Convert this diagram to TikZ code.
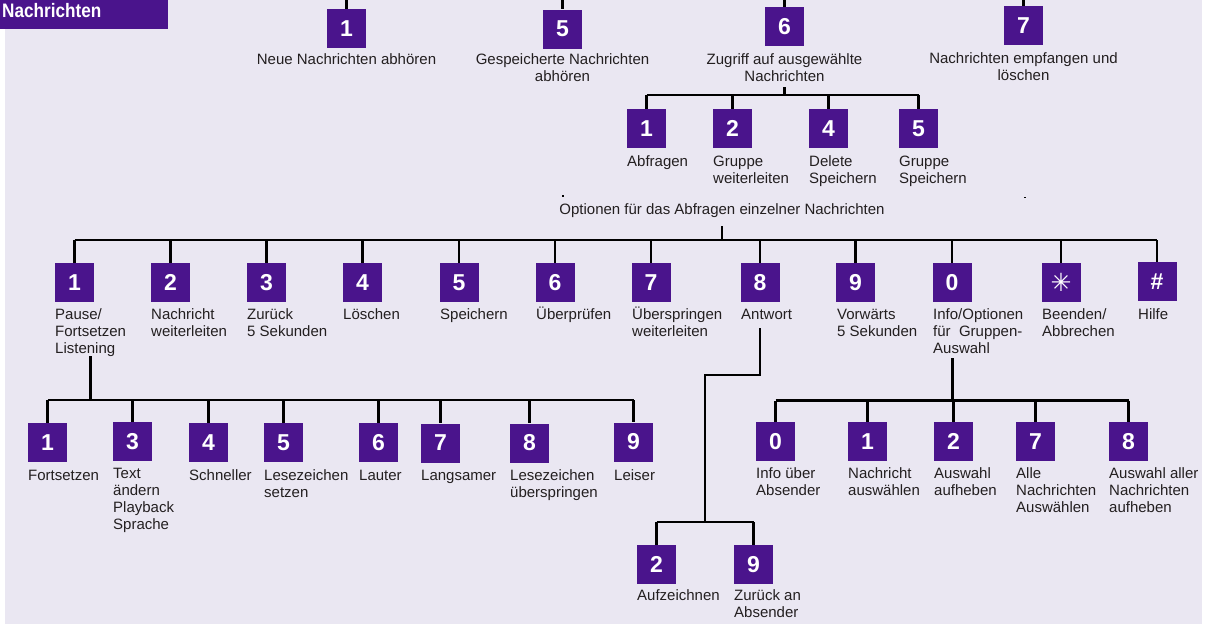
\documentclass[tikz,border=0pt]{standalone}
\usepackage{fontspec}
\setmainfont{Liberation Sans}
\newfontfamily\symfont{DejaVu Sans}
\definecolor{kpurple}{RGB}{74,20,140}
\definecolor{kbg}{RGB}{234,231,242}
\definecolor{ktext}{RGB}{35,31,32}
\tikzset{
  keybox/.style={fill=kpurple, text=white, minimum size=39pt, inner sep=0pt,
    font=\fontsize{23}{23}\selectfont\bfseries},
  lab/.style={anchor=north west, inner sep=0pt, align=left, text=ktext,
    font=\fontsize{15}{17}\selectfont},
  labc/.style={anchor=north, inner sep=0pt, align=center, text=ktext,
    font=\fontsize{15}{17}\selectfont},
  conn/.style={draw=black, line width=2.5pt}
}
\begin{document}
\begin{tikzpicture}[x=1pt,y=-1pt]
\useasboundingbox (0,0) rectangle (1215,624);
% background
\fill[kbg] (5,0) rectangle (1202,624);
\fill[kpurple] (0,0) rectangle (168,28.7);
\node[anchor=base west, inner sep=0pt, text=white, font=\fontsize{19.5}{20}\selectfont\bfseries] (title) at (2,17.3) {\scalebox{0.88}[1]{Nachrichten}};
% tiny marks
\fill[black] (562,195) rectangle (564,197);
\fill[black] (1024,196.5) rectangle (1026,198);

% ---------- top row ----------
\node[keybox] (k1) at (346.5,28.5) {1};
\node[keybox] (k5) at (562.5,29) {5};
\node[keybox] (k6) at (784.5,26.5) {6};
\node[keybox] (k7) at (1023.5,25.5) {7};
\node[labc] (l1) at (346.5,52) {\strut Neue Nachrichten abhören};
\node[labc] (l5) at (562.5,52) {\strut Gespeicherte Nachrichten\\abhören};
\node[labc] (l6) at (784.5,52) {\strut Zugriff auf ausgewählte\\Nachrichten};
\node[labc] (l7) at (1023.5,51.5) {\strut Nachrichten empfangen und\\löschen};
\coordinate (t1) at (346.5,0);
\coordinate (t5) at (562.5,0);
\coordinate (t6) at (784.5,0);
\coordinate (t7) at (1023.5,0);
\draw[conn] (t1) -- (k1.north);
\draw[conn] (t5) -- (k5.north);
\draw[conn] (t6) -- (k6.north);
\draw[conn] (t7) -- (k7.north);

% ---------- sub tree of 6 ----------
\node[keybox] (s1) at (646.5,128.5) {1};
\node[keybox] (s2) at (732.5,128.5) {2};
\node[keybox] (s3) at (828.5,128.5) {4};
\node[keybox] (s4) at (918.5,128.5) {5};
\node[lab] (sl1) at (627,154) {\strut Abfragen};
\node[lab] (sl2) at (713,154) {\strut Gruppe\\weiterleiten};
\node[lab] (sl3) at (809,154) {\strut Delete\\Speichern};
\node[lab] (sl4) at (899,154) {\strut Gruppe\\Speichern};
\coordinate (b6) at (784.5,95);
\draw[conn] ([yshift=-6pt]l6.south) -- (b6);
\draw[conn] (s1.north |- b6) -- (s4.north |- b6);
\foreach \i in {1,2,3,4} {\draw[conn] (s\i.north |- b6) -- (s\i.north);}

% ---------- options row ----------
\node[labc] (opt) at (722,202) {\strut Optionen für das Abfragen einzelner Nachrichten};
\coordinate (bO) at (722,240);
\draw[conn] ([yshift=-7pt]opt.south) -- (bO);
\node[keybox] (o1) at (74.5,282.5) {1};
\node[keybox] (o2) at (170.5,282.5) {2};
\node[keybox] (o3) at (266.5,282.5) {3};
\node[keybox] (o4) at (362.5,282.5) {4};
\node[keybox] (o5) at (459,282.5) {5};
\node[keybox] (o6) at (555,282.5) {6};
\node[keybox] (o7) at (651,282.5) {7};
\node[keybox] (o8) at (760,282.5) {8};
\node[keybox] (o9) at (855.5,282.5) {9};
\node[keybox] (o10) at (952,282.5) {0};
\node[keybox] (o11) at (1061,282.5) {\symfont\fontsize{25}{25}\selectfont ✳};
\node[keybox] (o12) at (1157,281.5) {\#};
\node[lab] (ol1) at (55,307) {\strut Pause/\\Fortsetzen\\Listening};
\node[lab] (ol2) at (151,307) {\strut Nachricht\\weiterleiten};
\node[lab] (ol3) at (247,307) {\strut Zurück\\5 Sekunden};
\node[lab] (ol4) at (343,307) {\strut Löschen};
\node[lab] (ol5) at (440,307) {\strut Speichern};
\node[lab] (ol6) at (536,307) {\strut Überprüfen};
\node[lab] (ol7) at (632,307) {\strut Überspringen\\weiterleiten};
\node[lab] (ol8) at (741,307) {\strut Antwort};
\node[lab] (ol9) at (837,307) {\strut Vorwärts\\5 Sekunden};
\node[lab] (ol10) at (933,307) {\strut Info/Optionen\\für~ Gruppen-\\Auswahl};
\node[lab] (ol11) at (1042,307) {\strut Beenden/\\Abbrechen};
\node[lab] (ol12) at (1138,307) {\strut Hilfe};
\draw[conn] (o1.north |- bO) -- (o12.north |- bO);
\foreach \i in {1,...,12} {\draw[conn] (o\i.north |- bO) -- (o\i.north);}

% ---------- under 1 (Pause/Fortsetzen) ----------
\coordinate (yP) at (0,400);
\node[keybox] (p1) at (47.5,442.5) {1};
\node[keybox] (p2) at (132.5,441.5) {3};
\node[keybox] (p3) at (208.5,442.5) {4};
\node[keybox] (p4) at (283.5,442.5) {5};
\node[keybox] (p5) at (378.5,442.5) {6};
\node[keybox] (p6) at (440.5,443) {7};
\node[keybox] (p7) at (529.5,443) {8};
\node[keybox] (p8) at (633.5,442) {9};
\node[lab] (pl1) at (28,468) {\strut Fortsetzen};
\node[lab] (pl2) at (113,466) {\strut Text\\ändern\\Playback\\Sprache};
\node[lab] (pl3) at (189,468) {\strut Schneller};
\node[lab] (pl4) at (264,468) {\strut Lesezeichen\\setzen};
\node[lab] (pl5) at (359,468) {\strut Lauter};
\node[lab] (pl6) at (421,468) {\strut Langsamer};
\node[lab] (pl7) at (510,468) {\strut Lesezeichen\\überspringen};
\node[lab] (pl8) at (614,468) {\strut Leiser};
\draw[conn] (ol1.south) -- (ol1.south |- yP);
\draw[conn] (p1.north |- yP) -- (p8.north |- yP);
\foreach \i in {1,...,8} {\draw[conn] (p\i.north |- yP) -- (p\i.north);}

% ---------- under 8 (Antwort) ----------
\coordinate (aS) at (760,328);
\coordinate (aM) at (760,375);
\coordinate (aK) at (705,375);
\coordinate (aB) at (705,522);
\draw[conn] (aS) -- (aM) -- (aK) -- (aB);
\node[keybox] (q1) at (656.5,564.5) {2};
\node[keybox] (q2) at (753.5,564.5) {9};
\node[lab] (ql1) at (637,588.7) {\strut Aufzeichnen};
\node[lab] (ql2) at (734,588.7) {\strut Zurück an\\Absender};
\draw[conn] (q1.north |- aB) -- (q2.north |- aB);
\draw[conn] (q1.north |- aB) -- (q1.north);
\draw[conn] (q2.north |- aB) -- (q2.north);

% ---------- under 0 (Info/Optionen) ----------
\coordinate (rS) at (952.5,358);
\coordinate (yR) at (0,400.5);
\node[keybox] (r1) at (775.5,441.5) {0};
\node[keybox] (r2) at (867.5,441.5) {1};
\node[keybox] (r3) at (953.5,441.5) {2};
\node[keybox] (r4) at (1035.5,441.5) {7};
\node[keybox] (r5) at (1128.5,441.5) {8};
\node[lab] (rl1) at (756,466.5) {\strut Info über\\Absender};
\node[lab] (rl2) at (848,466.5) {\strut Nachricht\\auswählen};
\node[lab] (rl3) at (934,466.5) {\strut Auswahl\\aufheben};
\node[lab] (rl4) at (1016,466.5) {\strut Alle\\Nachrichten\\Auswählen};
\node[lab] (rl5) at (1109,466.5) {\strut Auswahl aller\\Nachrichten\\aufheben};
\draw[conn] (rS) -- (rS |- yR);
\draw[conn] (r1.north |- yR) -- (r5.north |- yR);
\foreach \i in {1,...,5} {\draw[conn] (r\i.north |- yR) -- (r\i.north);}
\end{tikzpicture}
\end{document}
